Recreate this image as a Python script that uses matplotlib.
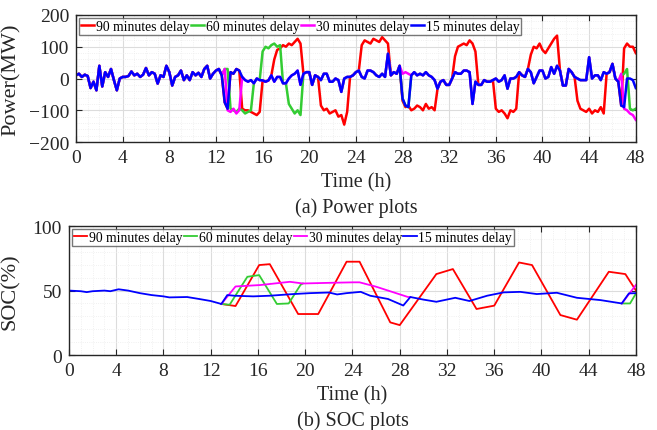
import numpy as np
import matplotlib
matplotlib.use("Agg")
import matplotlib.pyplot as plt
from matplotlib.ticker import MultipleLocator

plt.rcParams['font.family'] = ['Liberation Serif', 'DejaVu Serif']

# ---- power data, 15 minute samples, 0..48 h ----
step_h = 0.25
blue_power = [
    10, 15, 5, 12,   8, -30, -10, -37,   40, -25, 20, 5,   30, -5, -37, 0,
    5, 5, 8, 22,     10, 15, 5, 12,      33, 10, 20, 15,   -16, 10, 5, 40,
    20, -22, 5, 10,  25, -5, 10, -5,     20, 10, 18, 5,    30, 40, 0, 15,
    25, 30, 10, -75, -95, 20, 15, 30,    25, 5, -5, -10,   -5, -15, 0, -5,
    -6, -10, -6, 10, -10, 5, 5, -15,     -15, 0, 10, 15,   25, -20, 15, 20,
    20, -20, 10, 5,  -5, 15, 15, -10,    -10, 0, -5, -42,  0, 5, 5, 10,
    20, 25, 5, 0,    25, 25, 20, 10,     5, 15, 5, 78,     10, 20, 15, 40,
    -63, -85, -90, 10, 20, 10, 15, 10,   20, 10, 5, -5,    -32, -10, -5, -20,
    -20, 0, 20, 15,  15, 25, 25, 20,     -80, -10, -20, -20, -5, -10, -10, -5,
    0, -10, -5, 10,  -32, 0, 0, 5,       20, 10, 5, 30,    20, -15, 5, 25,
    25, 0, 5, 36,    15, 40, 25, -22,    -22, 30, 20, 5,   0, -5, -5, -5,
    67, 0, 10, 10,   -5, 20, 15, 20,     46, 0, -10, -85,  -90, 0, 0, -5,
    -30,
]

# the delayed cases follow the 15 min case except in these stretches (start h, values)
red_blocks = [
    (14.25, [-95, -100, -100, -105, -110, -115, -105]),
    (17.0, [60, 90, 95, 105, 100, 110, 105, 115, 125, 110]),
    (21.0, [-85, -100, -95, -110, -105, -100, -120, -115, -145, -105]),
    (24.5, [105, 120, 115, 110, 125, 120, 115, 130, 120, 110]),
    (28.0, [-70, -90, -85, -100, -95, -85, -90, -100, -80, -95, -90, -100]),
    (32.5, [70, 100, 105, 110, 105, 120, 110, 85]),
    (36.0, [-95, -105, -100, -110, -125, -100, -105, -95]),
    (39.0, [75, 100, 95, 110, 90, 80, 95, 110, 125, 135]),
    (43.0, [-70, -95, -100, -105, -95, -110, -100, -105, -90, -110]),
    (47.0, [95, 110, 100, 100, 80]),
]
green_blocks = [
    (12.75, [30, 30, -95, -100, -105, -95, -100, -110, -105, -100]),
    (16.0, [85, 100, 95, 105, 110, 100, 105]),
    (18.25, [-80, -95, -110, -100, -115]),
    (46.75, [10, 15, 30, -95, -100, -95]),
]
magenta_blocks = [
    (12.75, [30, -100, -105, -95, -110, -100]),
    (28.0, [15, 20, 15]),
    (46.75, [15, -95, -100, -110, -115, -130]),
]

# ---- SOC data, breakpoints (h, %) ----
blue_soc_t = [0, 1, 1.5, 2, 3, 3.5, 4.2, 5, 6, 7, 8, 8.5, 10, 11, 12, 12.9, 13.4, 14,
              15.6, 17, 19, 20.4, 22, 22.7, 23.5, 24.7, 25.5, 27, 28.3, 28.9, 30, 31.1,
              32.7, 33.9, 35.4, 36.8, 38.2, 39.6, 41.3, 43, 45, 46.8, 47.4, 48]
blue_soc_v = [50, 49.5, 48.8, 49.5, 50, 49.5, 51, 50, 48, 46.5, 45.5, 44.7, 45, 43.5, 41.9,
              39.6, 46.5, 46, 45.5, 46, 47.3, 48, 48.5, 47, 48, 49, 46, 43.5, 38.4, 45,
              43, 41.3, 44.4, 41.9, 46, 48.6, 49, 47.3, 48.3, 44.4, 42.6, 40, 47.8, 48]

magenta_soc = [
    ([12.9, 14.1, 16.2, 18.7, 19.8, 22, 24.1, 24.6, 26, 28.7, 28.9],
     [39.6, 53.2, 54.3, 56.8, 55.5, 56, 56.4, 56.4, 53, 45, 45]),
    ([46.8, 48], [40, 54.4]),
]
green_soc = [
    ([12.9, 13.6, 15.1, 16.1, 17.6, 18.6, 19.6, 19.8],
     [39.6, 39, 60.7, 62, 39.6, 40, 54.4, 55.5]),
    ([46.8, 47.5, 48], [40, 40, 47.8]),
]
red_soc = [
    ([12.9, 14.1, 16.1, 17, 19.4, 21.1, 23.5, 24.6, 27.2, 28.0, 31.1, 32.5, 34.5, 36,
      38.1, 39.2, 41.6, 43.0, 45.7, 47.1, 48],
     [39.6, 38, 69.8, 70.5, 31.8, 31.8, 72.4, 72.4, 25.3, 23.2, 62.8, 66.7, 35.7, 38.3,
      71.8, 69.8, 31, 27.4, 64.6, 62.8, 50]),
]

labels = ['90 minutes delay', '60 minutes delay', '30 minutes delay', '15 minutes delay']
colors = ['#ff0000', '#33cc33', '#ff00ff', '#0000ff']
ink = '#262626'


def with_blocks(base, blocks):
    arr = np.array(base, dtype=float)
    for start, vals in blocks:
        i = int(round(start / step_h))
        arr[i:i + len(vals)] = vals
    return arr


t_pow = np.arange(len(blue_power)) * step_h
power_series = [with_blocks(blue_power, red_blocks),
                with_blocks(blue_power, green_blocks),
                with_blocks(blue_power, magenta_blocks),
                np.array(blue_power, dtype=float)]


def style_axes(ax, ylim, yticks, yminor):
    ax.set_xlim(0, 48)
    ax.set_xticks(np.arange(0, 49, 4))
    ax.xaxis.set_minor_locator(MultipleLocator(1))
    ax.set_ylim(*ylim)
    ax.set_yticks(yticks)
    ax.yaxis.set_minor_locator(MultipleLocator(yminor))
    ax.grid(True, which='major', color='#dcdcdc', lw=0.8)
    ax.grid(True, which='minor', color='#ececec', lw=0.6, ls=':')
    ax.set_axisbelow(True)
    ax.tick_params(which='both', direction='in', top=True, right=True, labelsize=14,
                   color=ink, labelcolor=ink)
    ax.tick_params(which='major', length=4, pad=5)
    ax.tick_params(which='minor', length=0)
    for s in ax.spines.values():
        s.set_color(ink)
        s.set_linewidth(1.0)


fig = plt.figure(figsize=(6.57, 4.31), dpi=100)

ax1 = fig.add_axes([0.1157, 0.668, 0.852, 0.295])
for ser, c, lab in zip(power_series, colors, labels):
    ax1.plot(t_pow, ser, color=c, lw=1.8, label=lab)
style_axes(ax1, (-200, 200), [-200, -100, 0, 100, 200], 20)
ax1.set_ylabel('Power(MW)', fontsize=16, color=ink)
ax1.yaxis.set_label_coords(-0.098, 0.5)

ax2 = fig.add_axes([0.105, 0.174, 0.863, 0.299])
for segs, c, lab in zip([red_soc, green_soc, magenta_soc], colors[:3], labels[:3]):
    for k, (ts, vs) in enumerate(segs):
        ax2.plot(ts, vs, color=c, lw=1.3, label=lab if k == 0 else None)
ax2.plot(blue_soc_t, blue_soc_v, color=colors[3], lw=1.3, label=labels[3])
style_axes(ax2, (0, 100), [0, 50, 100], 10)
ax2.set_ylabel('SOC(%)', fontsize=16, color=ink)
ax2.yaxis.set_label_coords(-0.086, 0.5)

for ax in (ax1, ax2):
    leg = ax.legend(loc='upper left', ncol=4, fontsize=9.8, frameon=True, fancybox=False,
                    handlelength=1.0, handletextpad=0.1, columnspacing=0.1,
                    borderpad=0.15, borderaxespad=0.2, edgecolor='#555555')
    leg.get_frame().set_linewidth(1.0)

cx1 = 0.5 * (0.1157 + 0.968)
cx2 = 0.5 * (0.105 + 0.968)
fig.text(cx1, 1 - 183 / 431, 'Time (h)', ha='center', va='center', fontsize=14.5, color=ink)
fig.text(cx1, 1 - 208 / 431, '(a) Power plots', ha='center', va='center', fontsize=14.5, color=ink)
fig.text(cx2, 1 - 396 / 431, 'Time (h)', ha='center', va='center', fontsize=14.5, color=ink)
fig.text(cx2, 1 - 421 / 431, '(b) SOC plots', ha='center', va='center', fontsize=14.5, color=ink)

fig.savefig('out.png', dpi=100)
